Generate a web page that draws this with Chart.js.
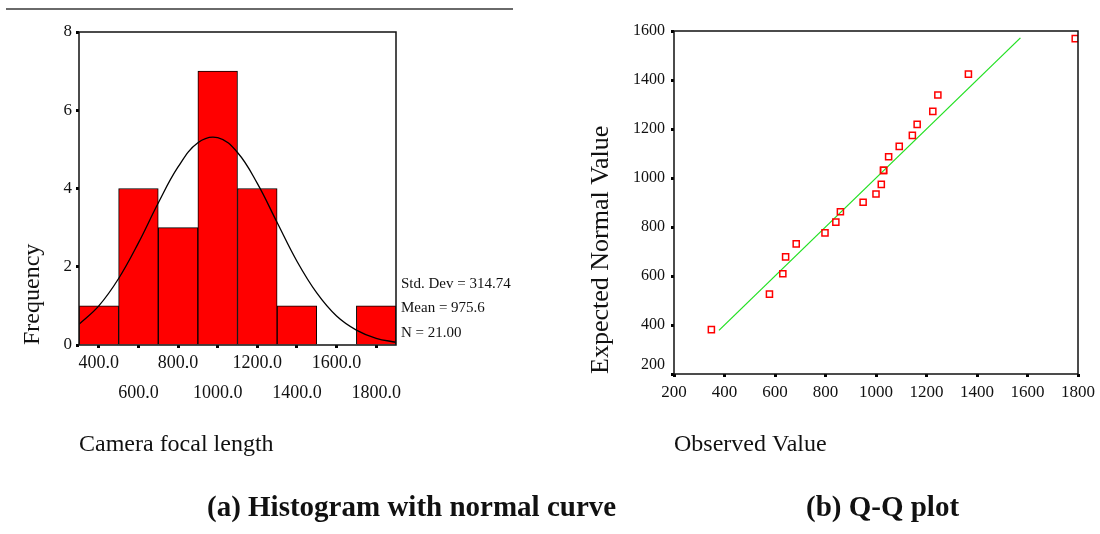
<!DOCTYPE html>
<html>
<head>
<meta charset="utf-8">
<script src="https://cdn.jsdelivr.net/npm/chart.js@4.4.1/dist/chart.umd.min.js"></script>
<style>
  body { margin:0; background:#fff; width:1100px; height:534px; overflow:hidden; position:relative;
         font-family:"Liberation Serif","Times New Roman",serif; color:#111; }
  #rule { position:absolute; left:6px; top:8px; width:507px; height:2px; background:#6a6a6a; }
  .box { position:absolute; top:0; height:534px; }
  canvas { display:block; }
  .cap { position:absolute; top:491px; line-height:30px; font-size:29px; font-weight:bold; white-space:nowrap; }
</style>
</head>
<body>
<div id="rule"></div>
<div class="box" style="left:0;width:560px"><canvas id="hist" width="560" height="534"></canvas></div>
<div class="box" style="left:560px;width:540px"><canvas id="qq" width="540" height="534"></canvas></div>
<div class="cap" style="left:207px">(a) Histogram with normal curve</div>
<div class="cap" style="left:806px">(b) Q-Q plot</div>
<script>
// histogram (bin width 200)
var binCenters = [400, 600, 800, 1000, 1200, 1400, 1600, 1800];
var binCounts  = [1, 4, 3, 7, 4, 1, 0, 1];
var histYTicks = [0, 2, 4, 6, 8];

// normal curve
var curveX = [300, 400, 500, 600, 700, 800, 900, 1000, 1100, 1200, 1300, 1400, 1500, 1600, 1700, 1800, 1900];
var curveY = [0.53, 1.0, 1.7, 2.61, 3.63, 4.55, 5.17, 5.3, 4.92, 4.13, 3.13, 2.14, 1.33, 0.74, 0.38, 0.17, 0.07];

var statLines = ['Std. Dev = 314.74', 'Mean = 975.6', 'N = 21.00'];

// Q-Q plot
var observed = [348, 578, 631, 642, 684, 798, 841, 859, 949, 1000, 1021, 1030, 1030, 1050, 1092, 1144, 1163, 1225, 1245, 1366, 1789];
var expected = [381, 526, 609, 678, 731, 776, 820, 862, 901, 935, 974, 1031, 1031, 1087, 1129, 1174, 1219, 1272, 1339, 1424, 1569];
var refLine  = [378, 1572];
var qqXTicks = [200, 400, 600, 800, 1000, 1200, 1400, 1600, 1800];
var qqYTicks = [200, 400, 600, 800, 1000, 1200, 1400, 1600];

var serif = '"Liberation Serif", "Times New Roman", serif';

var frame = {
  id: 'frame',
  afterDraw: function(chart) {
    var a = chart.chartArea, c = chart.ctx;
    c.save();
    c.strokeStyle = '#111';
    c.lineWidth = 1.5;
    c.strokeRect(a.left, a.top, a.right - a.left, a.bottom - a.top);
    c.restore();
  }
};

var stats = {
  id: 'stats',
  afterDraw: function(chart) {
    var c = chart.ctx;
    c.save();
    c.font = '15px ' + serif;
    c.fillStyle = '#111';
    c.textBaseline = 'middle';
    for (var i = 0; i < statLines.length; i++) {
      c.fillText(statLines[i], 401, 284 + i * 24.5);
    }
    c.restore();
  }
};

function fixTicks(list) {
  return function(s) { s.ticks = list.map(function(v){ return {value: v}; }); };
}

new Chart(document.getElementById('hist'), {
  type: 'bar',
  data: {
    datasets: [
      { type: 'line', order: 0, data: curveX.map(function(x, i){ return {x: x, y: curveY[i]}; }),
        borderColor: '#000', borderWidth: 1.3, pointRadius: 0, tension: 0.4, fill: false },
      { type: 'bar', order: 1, data: binCenters.map(function(x, i){ return {x: x, y: binCounts[i]}; }),
        backgroundColor: '#ff0000', borderColor: '#000', borderWidth: 1,
        barPercentage: 1, categoryPercentage: 1 }
    ]
  },
  options: {
    responsive: false, animation: false, devicePixelRatio: 1,
    layout: { padding: { left: 0, top: 32, right: 164, bottom: 0 } },
    plugins: { legend: { display: false }, tooltip: { enabled: false } },
    scales: {
      x: {
        type: 'linear', min: 300, max: 1900, offset: false,
        afterBuildTicks: fixTicks(binCenters),
        afterFit: function(s){ s.height = 189; },
        grid: { drawOnChartArea: false, tickLength: 3, tickWidth: 3, color: '#000', offset: false },
        border: { display: false },
        ticks: {
          color: '#111', padding: 0, maxRotation: 0, autoSkip: false,
          font: { family: serif, size: 18, lineHeight: 1.667 },
          callback: function(v, i) { var t = v.toFixed(1); return i % 2 === 0 ? [t, ''] : ['', t]; }
        },
        title: { display: true, text: 'Camera focal length', align: 'start', color: '#111',
                 font: { family: serif, size: 24 }, padding: { top: 0, bottom: 75 } }
      },
      y: {
        min: 0, max: 8,
        afterBuildTicks: fixTicks(histYTicks),
        afterFit: function(s){ s.width = 79; },
        grid: { drawOnChartArea: false, tickLength: 3, tickWidth: 3, color: '#000' },
        border: { display: false },
        ticks: { color: '#111', padding: 4, font: { family: serif, size: 17 } },
        title: { display: true, text: 'Frequency', align: 'start', color: '#111',
                 font: { family: serif, size: 24 }, padding: { top: 18.6, bottom: 0 } }
      }
    }
  },
  plugins: [frame, stats]
});

new Chart(document.getElementById('qq'), {
  type: 'scatter',
  data: {
    datasets: [
      { type: 'line', order: 1, data: refLine.map(function(v){ return {x: v, y: v}; }),
        borderColor: '#22e022', borderWidth: 1.3, pointRadius: 0, fill: false },
      { type: 'scatter', order: 0, data: observed.map(function(x, i){ return {x: x, y: expected[i]}; }),
        pointStyle: 'rect', pointRadius: 4.3, borderColor: '#ff0000', backgroundColor: 'rgba(255,255,255,0)',
        borderWidth: 1.5 }
    ]
  },
  options: {
    responsive: false, animation: false, devicePixelRatio: 1,
    layout: { padding: { left: 0, top: 31, right: 21, bottom: 0 } },
    plugins: { legend: { display: false }, tooltip: { enabled: false } },
    scales: {
      x: {
        type: 'linear', min: 200, max: 1800,
        afterBuildTicks: fixTicks(qqXTicks),
        afterFit: function(s){ s.height = 160; },
        grid: { drawOnChartArea: false, tickLength: 3, tickWidth: 3, color: '#000' },
        border: { display: false },
        ticks: { color: '#111', padding: 5, maxRotation: 0, autoSkip: false,
                 font: { family: serif, size: 17 },
                 callback: function(v) { return String(v); } },
        title: { display: true, text: 'Observed Value', align: 'start', color: '#111',
                 font: { family: serif, size: 24 }, padding: { top: 0, bottom: 75 } }
      },
      y: {
        type: 'linear', min: 200, max: 1600,
        afterBuildTicks: fixTicks(qqYTicks),
        afterFit: function(s){ s.width = 114; },
        grid: { drawOnChartArea: false, tickLength: 3, tickWidth: 3, color: '#000' },
        border: { display: false },
        ticks: { color: '#111', padding: 6, font: { family: serif, size: 16 },
                 callback: function(v) { return v === 200 ? [String(v), ''] : String(v); } },
        title: { display: true, text: 'Expected Normal Value', align: 'start', color: '#111',
                 font: { family: serif, size: 26 }, padding: { top: 26, bottom: 0 } }
      }
    }
  },
  plugins: [frame]
});
</script>
</body>
</html>
